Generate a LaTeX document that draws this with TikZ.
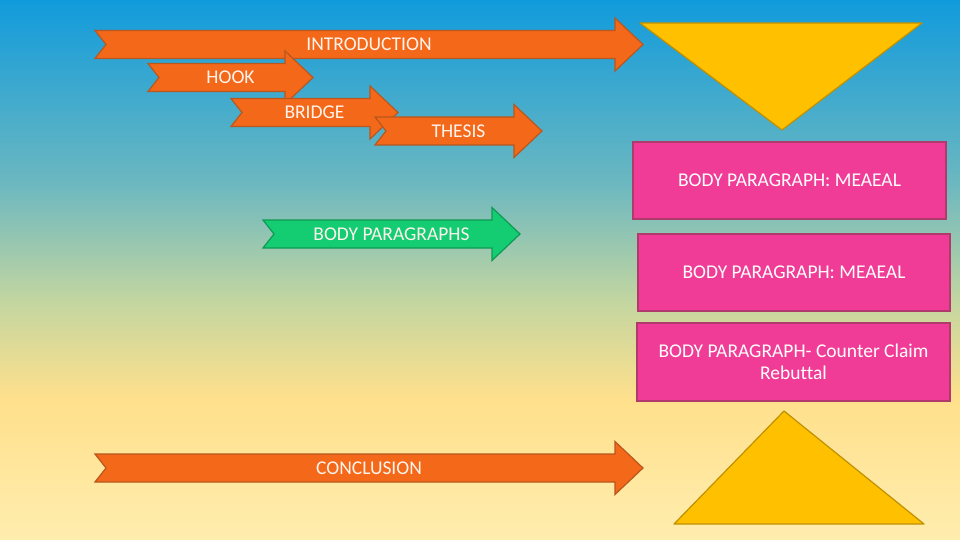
\documentclass[tikz,border=0pt]{standalone}
\usepackage{fontspec}
\setmainfont{Carlito}[Ligatures=NoCommon]
\usetikzlibrary{positioning}
\definecolor{skytop}{HTML}{119BDC}
\definecolor{skymid}{HTML}{6CB8C0}
\definecolor{sage}{HTML}{C4D6A0}
\definecolor{sand}{HTML}{FFE08C}
\definecolor{cream}{HTML}{FFEDAE}
\definecolor{flame}{HTML}{F4681A}
\definecolor{rust}{HTML}{B8571E}
\definecolor{mint}{HTML}{14CC72}
\definecolor{pine}{HTML}{0E9A55}
\definecolor{rose}{HTML}{F03C96}
\definecolor{plum}{HTML}{B03A6C}
\definecolor{gold}{HTML}{FFC000}
\definecolor{goldline}{HTML}{BF9000}
\definecolor{paper}{HTML}{FFF4EC}
\pgfdeclareverticalshading{backdrop}{100bp}{color(0bp)=(cream); color(25bp)=(cream); color(38bp)=(sand); color(47bp)=(sage); color(58bp)=(skymid); color(75bp)=(skytop); color(100bp)=(skytop)}
\tikzset{
  orangearrow/.style={draw=rust,fill=flame,line width=1.2pt,line join=miter},
  greenarrow/.style={draw=pine,fill=mint,line width=1.2pt,line join=miter},
  arrowtext/.style={font=\fontsize{19.5}{22}\selectfont,text=paper,inner sep=0pt},
  card/.style={draw=plum,fill=rose,line width=1.4pt,align=center,font=\fontsize{19.5}{21.5}\selectfont,text=white,inner sep=0pt},
  wedge/.style={draw=goldline,fill=gold,line width=1.2pt,line join=round}
}
\newcommand{\notcharrow}[6]{%
  \draw[#2] (#3,#6-14) -- (#4-28,#6-14) -- (#4-28,#6-26.5) -- (#4,#6) -- (#4-28,#6+26.5) -- (#4-28,#6+14) -- (#3,#6+14) -- (#3+11,#6) -- cycle;
  \node[arrowtext] (#1) at ({(#3+#4)/2},#6) {#5};}
\begin{document}
\begin{tikzpicture}[x=1pt,y=-1pt]
    \useasboundingbox (0,0) rectangle (960,540);
    \fill[shading=backdrop] (0,0) rectangle (960,540);

    \notcharrow{intro}{orangearrow}{95}{643}{INTRODUCTION}{44.5}
    \notcharrow{hook}{orangearrow}{148}{313}{HOOK}{77.5}
    \notcharrow{bridge}{orangearrow}{231}{398}{BRIDGE}{112.5}
    \notcharrow{thesis}{orangearrow}{375}{542}{THESIS}{131}
    \notcharrow{body}{greenarrow}{263}{520}{BODY PARAGRAPHS}{234}
    \notcharrow{conclusion}{orangearrow}{95}{643}{CONCLUSION}{468}

    \draw[wedge] (640,23) -- (922,23) -- (782,130) -- cycle;
    \draw[wedge] (784,411) -- (924,524) -- (674,524) -- cycle;

    \node[card,minimum width=313pt,minimum height=77pt] (para1) at (789.5,180.5) {BODY PARAGRAPH: MEAEAL};
    \node[card,minimum width=312pt,minimum height=77pt] (para2) at (794,272.5) {BODY PARAGRAPH: MEAEAL};
    \node[card,minimum width=313pt,minimum height=78pt] (para3) at (793.5,362) {BODY PARAGRAPH- Counter Claim\\Rebuttal};
  \end{tikzpicture}
\end{document}
